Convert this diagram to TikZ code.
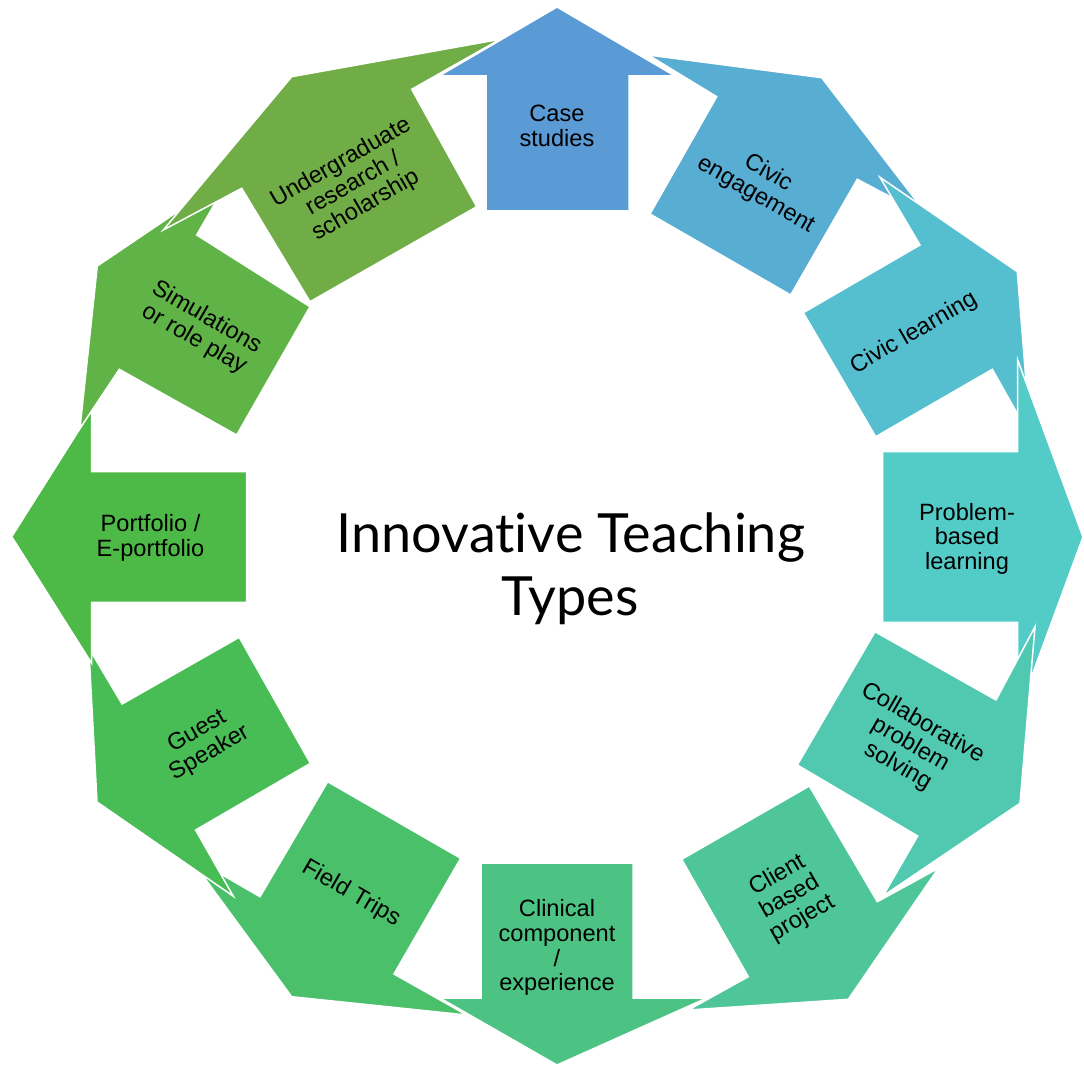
\documentclass[tikz,border=0pt]{standalone}
\usepackage{fontspec}
\setmainfont{Liberation Sans}
\newfontfamily\titlefont[Ligatures={NoCommon,NoRare,NoContextual}]{Lato}
\definecolor{c0}{RGB}{91,155,213}
\definecolor{c1}{RGB}{88,173,210}
\definecolor{c2}{RGB}{86,191,207}
\definecolor{c3}{RGB}{83,204,200}
\definecolor{c4}{RGB}{81,201,176}
\definecolor{c5}{RGB}{78,198,153}
\definecolor{c6}{RGB}{76,195,130}
\definecolor{c7}{RGB}{74,192,107}
\definecolor{c8}{RGB}{72,188,85}
\definecolor{c9}{RGB}{77,185,70}
\definecolor{c10}{RGB}{96,179,71}
\definecolor{c11}{RGB}{112,173,71}
\begin{document}
\begin{tikzpicture}[x=1pt,y=-1pt,
  blk/.style={draw=white, line width=1.5pt},
  lbl/.style={font=\fontsize{23.6}{24.8}\selectfont, align=center, inner sep=0pt, text=black, anchor=center},
  ttl/.style={font=\titlefont\fontsize{54}{63}\selectfont, inner sep=0pt, anchor=base, text=black}]
\useasboundingbox[fill=white] (0,0) rectangle (1084,1067);
% arrows, clockwise from top
\filldraw[blk, fill=c0] (486,211) -- (486,76) -- (439,76) -- (557,7) -- (675,76) -- (629,76) -- (629,211) -- cycle;
\filldraw[blk, fill=c1] (650,214) -- (716.7,96.7) -- (648.3,55) -- (821.7,77.7) -- (928.8,217) -- (857.3,179.3) -- (790.7,295) -- cycle;
\filldraw[blk, fill=c2] (803.3,312.7) -- (920,245) -- (880,177.3) -- (1017.3,271.7) -- (1030.4,436.9) -- (992.3,369.3) -- (875.7,436.7) -- cycle;
\filldraw[blk, fill=c3] (882.7,451.7) -- (1017.7,451.7) -- (1017.7,360) -- (1083,537) -- (1017.7,714) -- (1017.7,622.3) -- (882.7,622.3) -- cycle;
\filldraw[blk, fill=c4] (875,631.7) -- (996,700) -- (1035,626.7) -- (1020,803.3) -- (883,896) -- (917.7,836) -- (797.3,765) -- cycle;
\filldraw[blk, fill=c5] (809.3,786) -- (877.3,901.7) -- (938.3,868.3) -- (848.3,999.3) -- (688.3,1010) -- (748.3,976.7) -- (681.7,859.3) -- cycle;
\filldraw[blk, fill=c6] (633,863) -- (633,998) -- (706.7,998) -- (557,1065) -- (440,998) -- (481,998) -- (481,863) -- cycle;
\filldraw[blk, fill=c7] (460.7,858.3) -- (394,974) -- (466.7,1015) -- (291.7,996.7) -- (187.6,854.9) -- (260,896.7) -- (327.7,781.7) -- cycle;
\filldraw[blk, fill=c8] (310.4,763.3) -- (195.6,830) -- (233.3,896.2) -- (97,802) -- (88.8,648) -- (122.1,704) -- (239.2,637.3) -- cycle;
\filldraw[blk, fill=c9] (246.7,602.3) -- (91.7,602.3) -- (91.7,663.3) -- (11.7,536.7) -- (91.7,410) -- (91.7,471.7) -- (246.7,471.7) -- cycle;
\filldraw[blk, fill=c10] (236.7,435) -- (119.3,369.3) -- (80,428.3) -- (97.3,266) -- (231,175.6) -- (196.7,235) -- (310,306.7) -- cycle;
\filldraw[blk, fill=c11] (310,301.7) -- (241.7,188.3) -- (163.3,230) -- (291.7,76.7) -- (500,39.3) -- (411.7,89.3) -- (476.7,206.7) -- cycle;
% labels
\node[lbl] (t0) at (557,129.2) {\strut Case\\\strut studies};
\node[lbl, rotate=-30] (t1) at (761.3,185.1) {\strut Civic\\\strut engagement};
\node[lbl, rotate=30] (t2) at (914.5,334.3) {\strut Civic learning};
\node[lbl] (t3) at (967,540) {\strut Problem-\\\strut based\\\strut learning};
\node[lbl, rotate=-30] (t4) at (909.6,745.9) {\strut Collaborative\\\strut problem\\\strut solving};
\node[lbl, rotate=30] (t5) at (790.4,898) {\strut Client\\\strut based\\\strut project};
\node[lbl] (t6) at (557,948.8) {\strut Clinical\\\strut component\\\strut /\\\strut experience};
\node[lbl, rotate=-30] (t7) at (350.5,894.5) {\strut Field Trips};
\node[lbl, rotate=30] (t8) at (203.8,743.4) {\strut Guest\\\strut Speaker};
\node[lbl] (t9) at (150.5,539.2) {\strut Portfolio /\\\strut E-portfolio};
\node[lbl, rotate=-30] (t10) at (199.7,329.6) {\strut Simulations\\\strut or role play};
\node[lbl, rotate=30] (t11) at (353.9,185.3) {\strut Undergraduate\\\strut research /\\\strut scholarship};
% title
\node[ttl] (title1) at (571,552) {Innovative Teaching};
\node[ttl] (title2) at (570,615) {Types};
\end{tikzpicture}
\end{document}
